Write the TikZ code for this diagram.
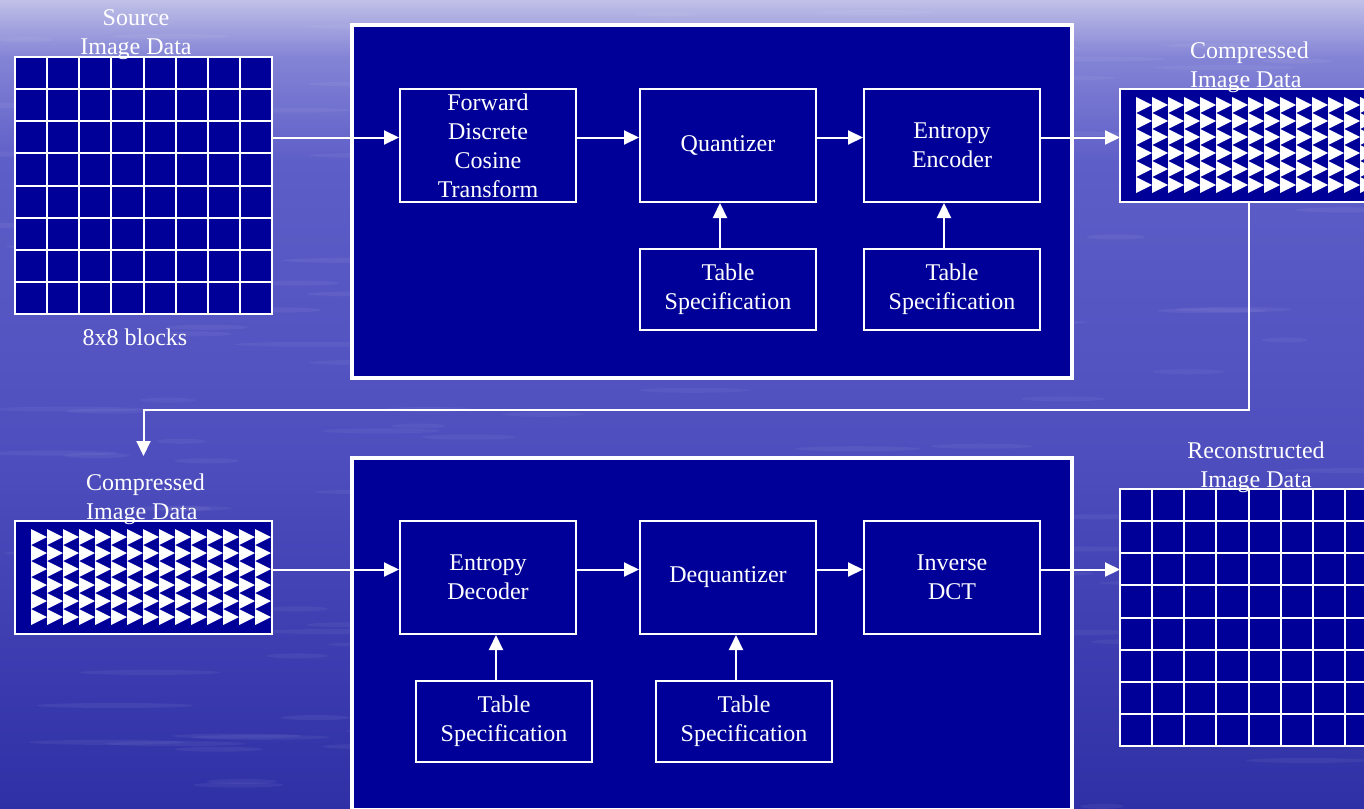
\documentclass[tikz,border=0pt]{standalone}
\usepackage{fontspec}
\setmainfont{Liberation Serif}
\usetikzlibrary{positioning, arrows.meta, calc}
\definecolor{boxblue}{RGB}{0,0,153}
\definecolor{sea0}{RGB}{48,48,166}
\definecolor{sea1}{RGB}{78,78,190}
\definecolor{sea2}{RGB}{94,94,200}
\definecolor{sea3}{RGB}{132,132,214}
\definecolor{sea4}{RGB}{192,192,232}
% central 50bp of the shading cover the picture
\pgfdeclareverticalshading{sea}{100bp}{color(0bp)=(sea0); color(25bp)=(sea0); color(47bp)=(sea1); color(65bp)=(sea2); color(71.5bp)=(sea3); color(75bp)=(sea4); color(100bp)=(sea4)}
\tikzset{
    every node/.style={text=white, font=\fontsize{24}{29}\selectfont}, % white Times-like text
    panel/.style={draw=white, line width=4pt, fill=boxblue, minimum width=720pt, minimum height=352.5pt}, % big coder frame
    stage/.style={draw=white, line width=2pt, fill=boxblue, align=center, minimum width=176pt, minimum height=113pt, inner sep=1pt}, % processing step
    tablebox/.style={stage, minimum height=81pt}, % table specification
    imgbox/.style={draw=white, line width=2pt, fill=boxblue, outer sep=0pt, minimum width=257pt}, % image data block
    cellline/.style={draw=white, line width=2pt},
    caption/.style={align=center, inner sep=0pt},
    flow/.style={draw=white, line width=2pt, -{Triangle[length=15pt, width=14pt]}}, % white arrows
}
\begin{document}
\begin{tikzpicture}[x=1pt, y=-1pt]
    \useasboundingbox (0,0) rectangle (1364,808);
    \clip (0,0) rectangle (1364,808);
    \shade[shading=sea] (0,0) rectangle (1364,808);
    % water ripples
    \pgfmathsetseed{7}
    \foreach \i in {1,...,160} {
        \pgfmathsetmacro{\wx}{1364*rnd}
        \pgfmathsetmacro{\wy}{808*rnd}
        \pgfmathsetmacro{\wr}{20+60*rnd}
        \fill[white, opacity=0.05] (\wx,\wy) ellipse [x radius=\wr, y radius=2.5];
    }

    % encoder and decoder frames
    \node[panel] (enc) at (711.5,201.25) {};
    \node[panel] (dec) at (711.5,634) {};

    % encoder
    \node[stage] (fdct) at (488,145.5) {Forward\\Discrete\\Cosine\\Transform};
    \node[stage, right=62pt of fdct] (quant) {Quantizer};
    \node[stage, right=46pt of quant] (ence) {Entropy\\Encoder};
    \node[tablebox, below=45pt of quant] (tsq) {Table\\Specification};
    \node[tablebox, below=45pt of ence] (tse) {Table\\Specification};

    % decoder
    \node[stage] (decd) at (488,577.5) {Entropy\\Decoder};
    \node[stage, right=62pt of decd] (dequ) {Dequantizer};
    \node[stage, right=46pt of dequ] (idct) {Inverse\\DCT};
    \node[tablebox, below=45pt of decd, xshift=16pt] (tsd) {Table\\Specification};
    \node[tablebox, below=45pt of dequ, xshift=16pt] (tsdq) {Table\\Specification};

    % image data
    \node[imgbox, minimum height=257pt] (src) at (143.5,185.5) {};
    \node[imgbox, minimum height=257pt] (recon) at (1248.5,617.5) {};
    \node[imgbox, minimum height=113pt] (cup) at (1248.5,145.5) {};
    \node[imgbox, minimum height=113pt] (clo) at (143.5,577.5) {};
    \foreach \k in {1,...,7} {
        \draw[cellline] ($(src.north west)+(\k*32.125,0)$) -- ($(src.south west)+(\k*32.125,0)$);
        \draw[cellline] ($(src.north west)+(0,\k*32.125)$) -- ($(src.north east)+(0,\k*32.125)$);
        \draw[cellline] ($(recon.north west)+(\k*32.125,0)$) -- ($(recon.south west)+(\k*32.125,0)$);
        \draw[cellline] ($(recon.north west)+(0,\k*32.125)$) -- ($(recon.north east)+(0,\k*32.125)$);
    }
    \foreach \c in {0,...,14} \foreach \r in {0,...,5} {
        \fill[white] ($(cup.north west)+(16+16*\c,8+16*\r)$) -- ++(0,16) -- ++(16,-8) -- cycle;
        \fill[white] ($(clo.north west)+(16+16*\c,8+16*\r)$) -- ++(0,16) -- ++(16,-8) -- cycle;
    }

    % connectors
    \coordinate (r1) at (0,137.5);
    \coordinate (r2) at (0,569.5);
    \coordinate (turn) at (0,410);
    \coordinate (cin) at (143.5,456);
    \draw[flow] (src.east |- r1) -- (fdct.west |- r1);
    \draw[flow] (fdct.east |- r1) -- (quant.west |- r1);
    \draw[flow] (quant.east |- r1) -- (ence.west |- r1);
    \draw[flow] (ence.east |- r1) -- (cup.west |- r1);
    \draw[flow] ([xshift=-8pt]tsq.north) -- ([xshift=-8pt]quant.south);
    \draw[flow] ([xshift=-8pt]tse.north) -- ([xshift=-8pt]ence.south);
    \draw[flow] (cup.south) |- (turn -| cin) -- (cin);
    \draw[flow] (clo.east |- r2) -- (decd.west |- r2);
    \draw[flow] (decd.east |- r2) -- (dequ.west |- r2);
    \draw[flow] (dequ.east |- r2) -- (idct.west |- r2);
    \draw[flow] (idct.east |- r2) -- (recon.west |- r2);
    \draw[flow] ([xshift=-8pt]tsd.north) -- ([xshift=-8pt]tsd.north |- decd.south);
    \draw[flow] ([xshift=-8pt]tsdq.north) -- ([xshift=-8pt]tsdq.north |- dequ.south);

    % labels
    \node[caption] (srclbl) at (136,35) {Source\\Image Data};
    \node[caption] (blocks) at (135,337) {8x8 blocks};
    \node[caption, anchor=west, align=left] (cuplbl) at (1190,67) {Compressed\\Image Data};
    \node[caption, anchor=west, align=left] (clolbl) at (86,499.7) {Compressed\\Image Data};
    \node[caption] (reclbl) at (1256,467.3) {Reconstructed\\Image Data};
\end{tikzpicture}
\end{document}
